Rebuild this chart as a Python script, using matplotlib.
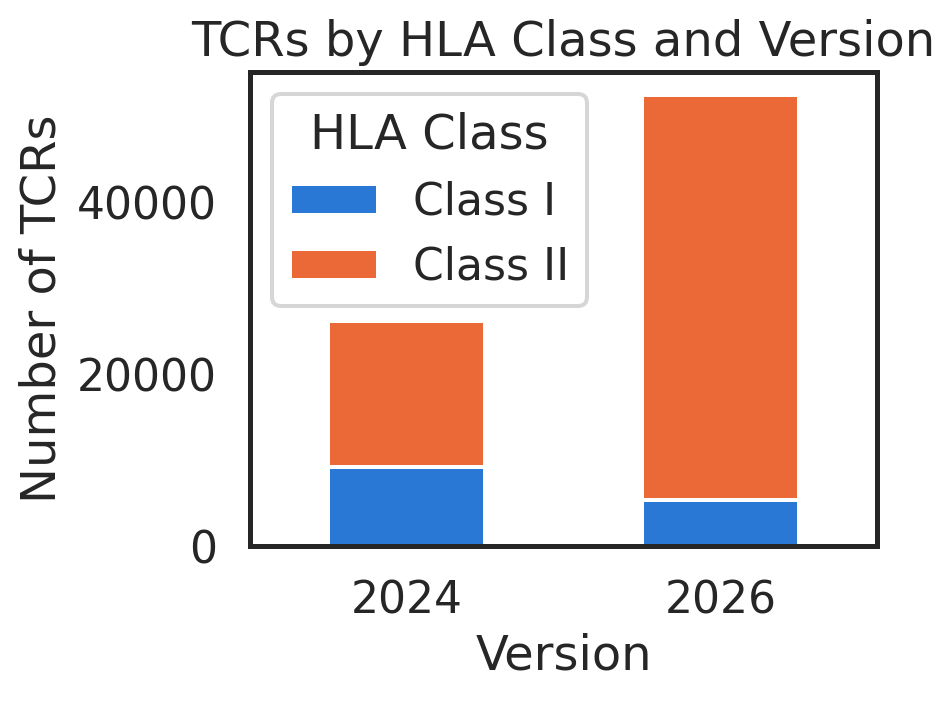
import matplotlib
matplotlib.use("Agg")
import matplotlib.pyplot as plt
import seaborn as sns
import numpy as np

versions = ["2024", "2026"]
class_i = [9250, 5300]
class_ii = [16900, 47250]
series_names = ["Class I", "Class II"]
colors = ["#2a78d6", "#eb6837"]

sns.set_theme(style="white", context="talk")
plt.rcParams['font.family'] = ['DejaVu Sans']

DPI = 192
W, H = 952, 702
fig = plt.figure(figsize=(W / DPI, H / DPI), dpi=DPI)
ax = fig.add_axes([250 / W, (H - 546) / H, (877 - 250) / W, (546 - 72) / H])

x = np.arange(len(versions))
width = 0.5
ax.bar(x, class_i, width, color=colors[0], label=series_names[0],
       edgecolor="white", linewidth=1.5)
ax.bar(x, class_ii, width, bottom=class_i, color=colors[1], label=series_names[1],
       edgecolor="white", linewidth=1.5)

ax.set_xlim(-0.5, len(versions) - 0.5)
ax.set_xticks(x)
ax.set_xticklabels(versions, rotation=0)
ax.set_yticks([0, 20000, 40000])
ax.set_xlabel("Version")
ax.set_ylabel("Number of TCRs")
ax.set_title("TCRs by HLA Class and Version")
for s in ax.spines.values():
    s.set_color("#262626")
ax.legend(title="HLA Class", loc="upper left")

fig.savefig("out.png", dpi=DPI)
